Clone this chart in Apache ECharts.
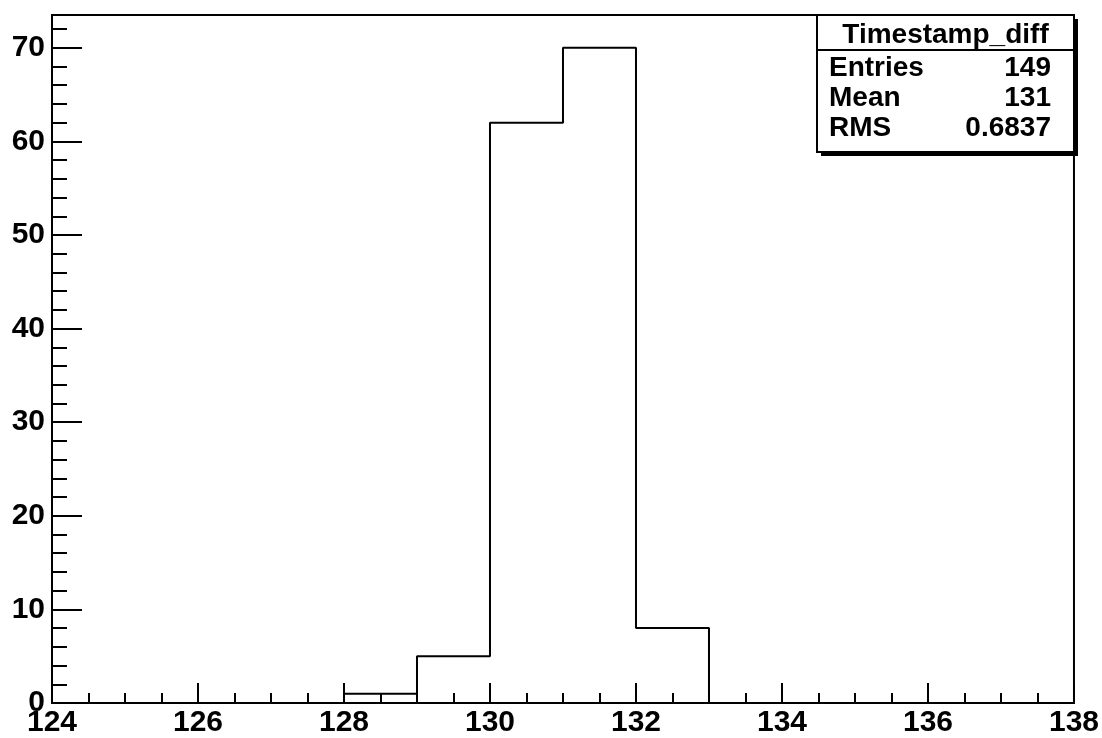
<!doctype html>
<html>
<head>
<meta charset="UTF-8">
<title>Timestamp_diff</title>
<script src="https://cdn.jsdelivr.net/npm/echarts@6/dist/echarts.min.js"></script>
<style>
  html, body { margin: 0; padding: 0; background: #fff; }
  #main { width: 1102px; height: 738px; }
</style>
</head>
<body>
<div id="main"></div>
<script type="text/javascript">
// histogram bins (lower edges, width 1) and counts
var binLow = [124, 125, 126, 127, 128, 129, 130, 131, 132, 133, 134, 135, 136, 137];
var binWidth = 1;
var counts = [0, 0, 0, 0, 1, 5, 62, 70, 8, 0, 0, 0, 0, 0];

// stats box
var statsTitle = 'Timestamp_diff';
var statsLabels = ['Entries', 'Mean', 'RMS'];
var statsValues = ['149', '131', '0.6837'];

var FONT = '"Liberation Sans", Arial, sans-serif';

// outline points for a step line: each bin start, then the last bin end
var steps = [];
for (var i = 0; i < binLow.length; i++) {
    steps.push([binLow[i], counts[i]]);
}
steps.push([binLow[binLow.length - 1] + binWidth, counts[counts.length - 1]]);

var myChart = echarts.init(document.getElementById('main'));

// stats box graphic
var boxL = 817, boxT = 15, boxW = 257, boxH = 137;
var graphics = [
    { type: 'rect', shape: { x: boxL + 4, y: boxT + 4, width: boxW, height: boxH },
      style: { fill: '#000' }, z: 100 },
    { type: 'rect', shape: { x: boxL, y: boxT, width: boxW, height: boxH },
      style: { fill: '#fff', stroke: '#000', lineWidth: 2 }, z: 101 },
    { type: 'line', shape: { x1: boxL, y1: 50, x2: boxL + boxW, y2: 50 },
      style: { stroke: '#000', lineWidth: 2 }, z: 102 },
    { type: 'text', x: boxL + boxW / 2, y: 35, z: 102,
      style: { text: statsTitle, font: 'bold 28px ' + FONT, fill: '#000',
               align: 'center', verticalAlign: 'middle' } }
];
for (var k = 0; k < statsLabels.length; k++) {
    var cy = 68.5 + k * 30;
    graphics.push({ type: 'text', x: 829, y: cy, z: 102,
        style: { text: statsLabels[k], font: 'bold 28px ' + FONT, fill: '#000',
                 align: 'left', verticalAlign: 'middle' } });
    graphics.push({ type: 'text', x: 1051, y: cy, z: 102,
        style: { text: statsValues[k], font: 'bold 28px ' + FONT, fill: '#000',
                 align: 'right', verticalAlign: 'middle' } });
}

var option = {
    animation: false,
    backgroundColor: '#fff',
    grid: {
        left: 52,
        right: 26,
        top: 15,
        bottom: 34,
        show: true,
        borderColor: '#000',
        borderWidth: 2,
        backgroundColor: '#fff'
    },
    xAxis: {
        type: 'value',
        min: 124,
        max: 138,
        interval: 2,
        axisLine: { show: true, onZero: false, lineStyle: { color: '#000', width: 2 } },
        axisTick: { show: true, inside: true, length: 20, lineStyle: { color: '#000', width: 2 } },
        minorTick: { show: true, splitNumber: 4, length: 10, lineStyle: { color: '#000', width: 2 } },
        splitLine: { show: false },
        axisLabel: {
            margin: 5,
            color: '#000',
            fontSize: 30,
            fontWeight: 'bold',
            fontFamily: FONT,
            showMinLabel: true,
            showMaxLabel: true
        }
    },
    yAxis: [{
        type: 'value',
        min: 0,
        max: 73.5,
        interval: 10,
        axisLine: { show: true, lineStyle: { color: '#000', width: 2 } },
        axisTick: { show: true, inside: true, length: 30, lineStyle: { color: '#000', width: 2 } },
        splitLine: { show: false },
        axisLabel: {
            margin: 7,
            color: '#000',
            fontSize: 30,
            fontWeight: 'bold',
            fontFamily: FONT,
            showMaxLabel: false,
            formatter: function (v) { return v % 10 === 0 ? String(v) : ''; }
        }
    }, {
        // minor ticks every 2
        type: 'value',
        position: 'left',
        min: 0,
        max: 73.5,
        interval: 2,
        axisLine: { show: false },
        axisTick: { show: true, inside: true, length: 15, lineStyle: { color: '#000', width: 2 } },
        splitLine: { show: false },
        axisLabel: { show: false }
    }],
    series: [{
        name: statsTitle,
        type: 'line',
        step: 'end',
        data: steps,
        symbol: 'none',
        lineStyle: { color: '#000', width: 2 },
        clip: true,
        z: 3
    }],
    graphic: graphics
};

myChart.setOption(option);
</script>
</body>
</html>
